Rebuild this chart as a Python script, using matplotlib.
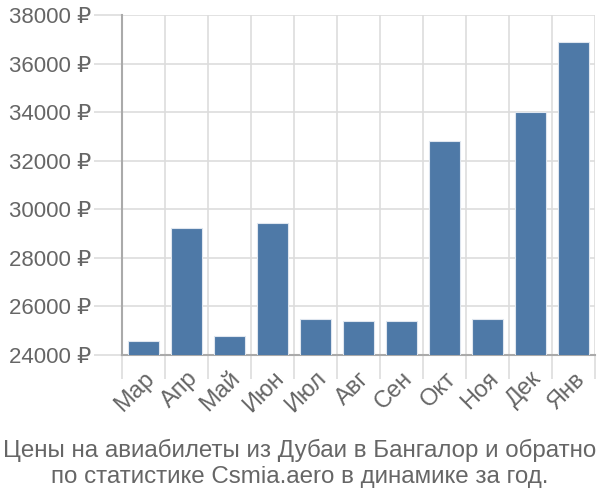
import numpy as np
import matplotlib.pyplot as plt
from matplotlib.ticker import FixedLocator

plt.rcParams['font.family'] = ['Liberation Sans', 'DejaVu Sans']

# data
months = ['Мар', 'Апр', 'Май', 'Июн', 'Июл', 'Авг', 'Сен', 'Окт', 'Ноя', 'Дек', 'Янв']
prices = [24580, 29230, 24780, 29430, 25480, 25400, 25400, 32810, 25480, 34000, 36870]
yticks = [24000, 26000, 28000, 30000, 32000, 34000, 36000, 38000]
title = 'Цены на авиабилеты из Дубаи в Бангалор и обратно\nпо статистике Csmia.aero в динамике за год.'

fig = plt.figure(figsize=(6, 5), dpi=100)
ax = fig.add_axes([0.203, 0.29, 0.789, 0.68])

x = np.arange(len(months))
ax.bar(x, prices, width=0.72, color='#4e79a7', edgecolor='#dfe6ef', linewidth=0.8, zorder=3)
ax.set_xlim(-0.5, len(months) - 0.5)
ax.set_ylim(24000, 38000)

# grid
ax.set_yticks(yticks)
ax.set_yticklabels([f'{v} ₽' for v in yticks])
ax.xaxis.set_minor_locator(FixedLocator(np.arange(-0.5, len(months), 1.0)))
ax.set_xticks(x)
ax.set_xticklabels(months, rotation=45, ha='right', rotation_mode='anchor')
ax.grid(axis='y', which='major', color='#dddddd', linewidth=1.2, zorder=0)
ax.grid(axis='x', which='minor', color='#dddddd', linewidth=1.2, zorder=0)
ax.tick_params(axis='y', which='major', length=20, color='#dddddd', width=1.2,
               labelsize=16, labelcolor='#666666', pad=2)
ax.tick_params(axis='x', which='major', length=0, labelsize=17, labelcolor='#666666', pad=9)
ax.tick_params(axis='x', which='minor', length=17, color='#dddddd', width=1.2)

for s in ['top', 'right']:
    ax.spines[s].set_visible(False)
ax.spines['left'].set_color('#aaaaaa')
ax.spines['left'].set_linewidth(1.5)
ax.spines['bottom'].set_color('#aaaaaa')
ax.spines['bottom'].set_linewidth(1.5)

fig.text(0.5, 0.025, title, ha='center', va='bottom', fontsize=17.4, color='#666666',
         linespacing=1.2)

fig.savefig('out.png')
